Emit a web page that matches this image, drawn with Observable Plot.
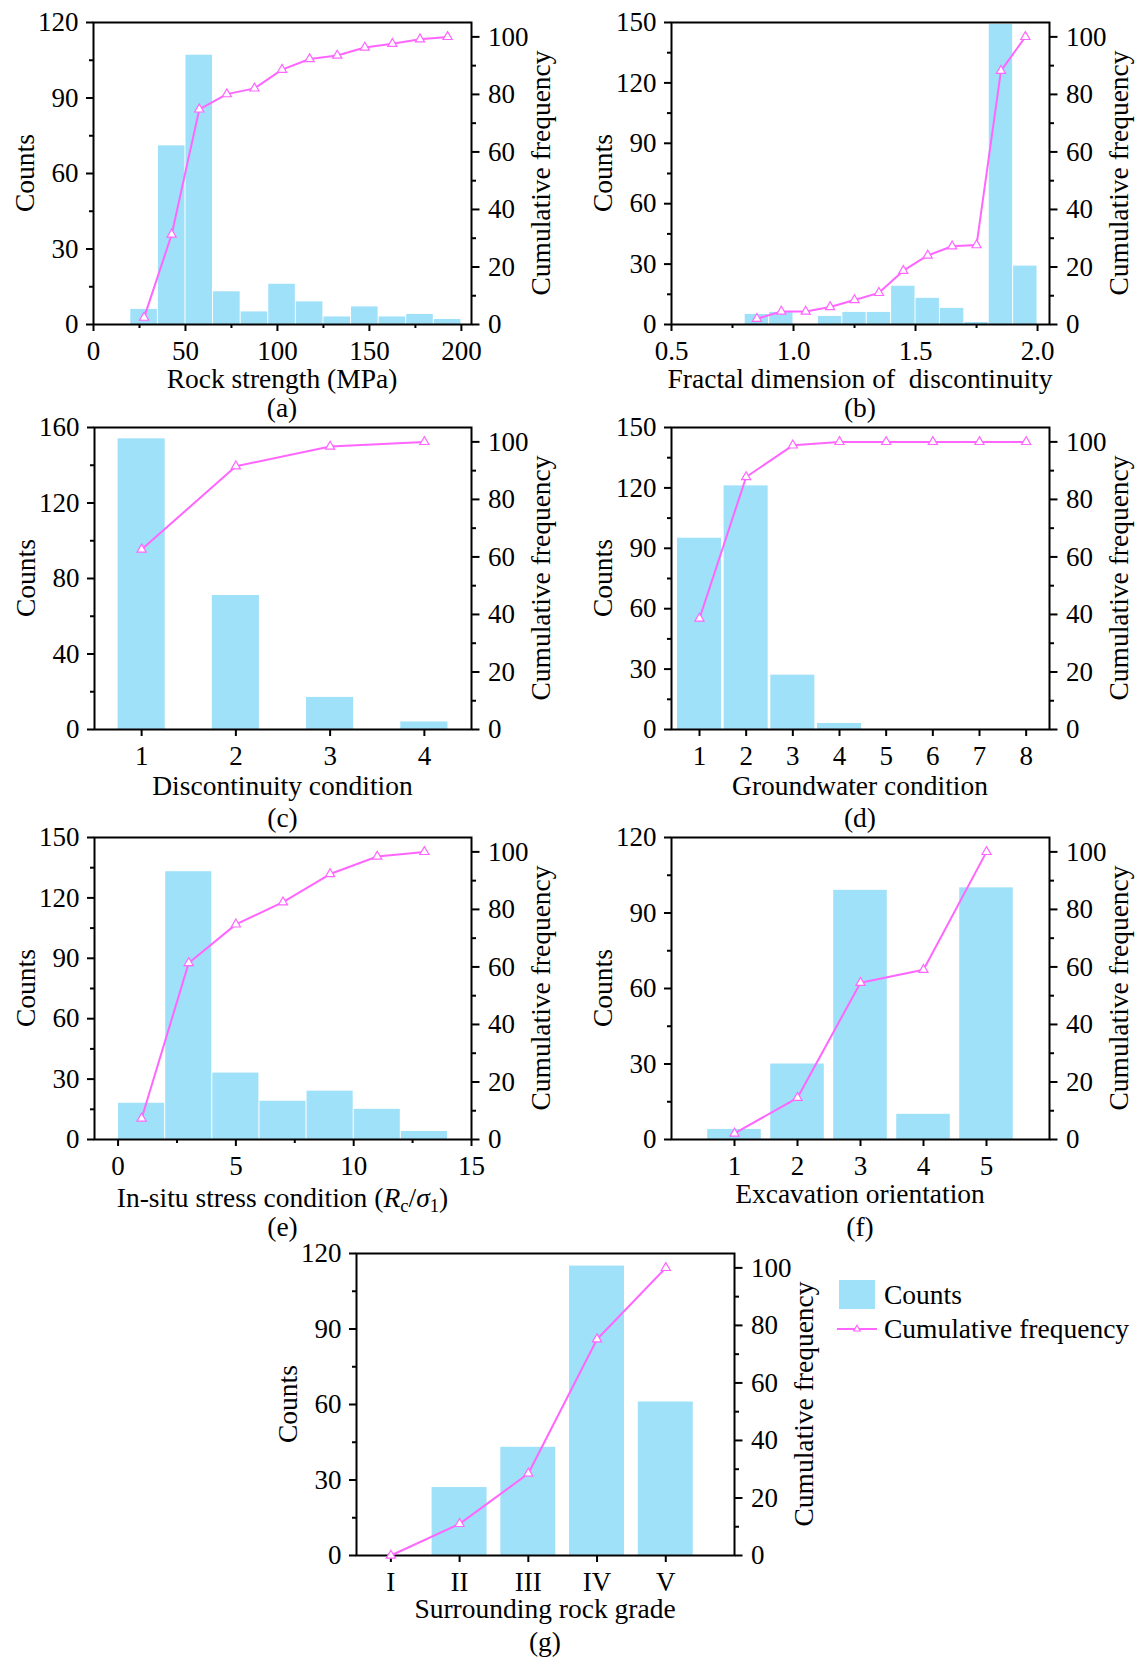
<!DOCTYPE html>
<html><head><meta charset="utf-8">
<script src="https://cdn.jsdelivr.net/npm/d3@7"></script>
<script src="https://cdn.jsdelivr.net/npm/@observablehq/plot@0.6"></script>
<style>
body{margin:0;background:#fff;}
#root{position:relative;width:1140px;height:1657px;overflow:hidden;font-family:"Liberation Serif","Times New Roman",serif;color:#000;background:#fff;}
.lbl{position:absolute;white-space:pre;line-height:0.75;transform:translate(-50%,-50%);}
.rot{transform:translate(-50%,-50%) rotate(-90deg);}
.lbl sub{font-size:0.68em;vertical-align:-0.3em;line-height:0;}
</style></head><body><div id="root"></div>
<script>
// ---------- data ----------
const rockStrengthBins = [27.5, 42.5, 57.5, 72.5, 87.5, 102.5, 117.5, 132.5, 147.5, 162.5, 177.5, 192.5];
const rockStrengthCounts = [6, 71, 107, 13, 5, 16, 9, 3, 7, 3, 4, 2];
const rockStrengthCum = [2.4, 31.3, 74.8, 80.1, 82.1, 88.6, 92.3, 93.5, 96.3, 97.6, 99.2, 100];

const fractalBins = [0.85, 0.95, 1.05, 1.15, 1.25, 1.35, 1.45, 1.55, 1.65, 1.75, 1.85, 1.95];
const fractalCounts = [5, 6, 0, 4, 6, 6, 19, 13, 8, 1, 149, 29];
const fractalCum = [2.0, 4.5, 4.5, 6.1, 8.5, 11.0, 18.7, 24.0, 27.2, 27.6, 88.2, 100];

const discontinuityLevels = [1, 2, 3, 4];
const discontinuityCounts = [154, 71, 17, 4];
const discontinuityCum = [62.6, 91.5, 98.4, 100];

const groundwaterLevels = [1, 2, 3, 4, 5, 6, 7, 8];
const groundwaterCounts = [95, 121, 27, 3, 0, 0, 0, 0];
const groundwaterCum = [38.6, 87.8, 98.8, 100, 100, 100, 100, 100];

const stressBins = [1, 3, 5, 7, 9, 11, 13];
const stressCounts = [18, 133, 33, 19, 24, 15, 4];
const stressCum = [7.3, 61.4, 74.8, 82.5, 92.3, 98.4, 100];

const orientationLevels = [1, 2, 3, 4, 5];
const orientationCounts = [4, 30, 99, 10, 100];
const orientationCum = [2.1, 14.5, 54.5, 59.0, 100];

const gradeLevels = [1, 2, 3, 4, 5];
const gradeLabels = ["I", "II", "III", "IV", "V"];
const gradeCounts = [0, 27, 43, 115, 61];
const gradeCum = [0, 11.0, 28.5, 75.2, 100];

const cumTicks = [0, 20, 40, 60, 80, 100];
const cumMinor = [10, 30, 50, 70, 90];

// ---------- styling ----------
const FONT = "Liberation Serif, Times New Roman, serif";
const BAR = "#a0e1fa";
const LINE = "#ff66ff";
const TICK_FS = 27;
const TEXT_FS = 27.5;
const root = document.getElementById("root");

function label(html, x, y, size, rotate) {
  const d = document.createElement("div");
  d.className = "lbl" + (rotate ? " rot" : "");
  d.style.left = x + "px"; d.style.top = y + "px"; d.style.fontSize = size + "px";
  d.innerHTML = html;
  root.appendChild(d);
}

function panel(c) {
  const mL = 90, mR = 75, mT = 25, mB = 55;
  const width = c.fx2 - c.fx1 + mL + mR;
  const height = c.fy2 - c.fy1 + mT + mB;
  const bars = c.centers.map((v, i) => ({x1: v - c.barWidth / 2, x2: v + c.barWidth / 2, count: c.counts[i]}));
  const pts = c.centers.map((v, i) => ({x: v, cum: c.cum[i]}));
  const style = {fontFamily: FONT, fontSize: TICK_FS + "px", color: "#000", background: "transparent", overflow: "visible"};
  const common = {width, height, marginLeft: mL, marginRight: mR, marginTop: mT, marginBottom: mB, style};
  const A = Plot.plot({
    ...common,
    x: {domain: c.xDomain},
    y: {domain: [0, c.yMax]},
    marks: [
      Plot.rectY(bars, {x1: "x1", x2: "x2", y: "count", fill: BAR, insetLeft: c.inset, insetRight: c.inset}),
      Plot.axisY({ticks: c.yTicks, tickSize: 7, tickPadding: 8, strokeWidth: 2, label: null, fontSize: TICK_FS}),
      Plot.axisY({ticks: c.yMinor, tickSize: 4, tickFormat: () => "", strokeWidth: 2, label: null}),
      Plot.axisX({ticks: c.xTicks, tickSize: 7, tickPadding: 9.5, strokeWidth: 2, label: null, fontSize: TICK_FS, tickFormat: c.xFormat}),
      c.xMinor ? Plot.axisX({ticks: c.xMinor, tickSize: 4, tickFormat: () => "", strokeWidth: 2, label: null}) : null,
      Plot.frame({stroke: "#000", strokeWidth: 2})
    ]
  });
  const B = Plot.plot({
    ...common,
    x: {domain: c.xDomain, axis: null},
    y: {domain: [0, 105]},
    marks: [
      Plot.line(pts, {x: "x", y: "cum", stroke: LINE, strokeWidth: 2}),
      Plot.dot(pts, {x: "x", y: "cum", symbol: "triangle", r: 3.4, stroke: LINE, fill: "#fff", strokeWidth: 1.2}),
      Plot.axisY({anchor: "right", ticks: cumTicks, tickSize: 7.5, tickPadding: 9, strokeWidth: 2, label: null, fontSize: TICK_FS}),
      Plot.axisY({anchor: "right", ticks: cumMinor, tickSize: 4, tickFormat: () => "", strokeWidth: 2, label: null})
    ]
  });
  for (const s of [A, B]) {
    s.style.position = "absolute";
    s.style.left = (c.fx1 - mL) + "px";
    s.style.top = (c.fy1 - mT) + "px";
    s.style.maxWidth = "none";
    root.appendChild(s);
  }
  const midX = (c.fx1 + c.fx2) / 2, midY = (c.fy1 + c.fy2) / 2;
  label("Counts", c.fx1 - 68, midY, TEXT_FS, true);
  label("Cumulative frequency", c.fx2 + 70, midY, TEXT_FS, true);
  label(c.title, midX, c.titleY, TEXT_FS, false);
  label(c.tag, midX, c.tagY, TEXT_FS, false);
}

const intFmt = d3.format("d");

panel({fx1: 93, fx2: 471, fy1: 22, fy2: 324, xDomain: [0, 205.5], yMax: 120,
  yTicks: [0, 30, 60, 90, 120], yMinor: [15, 45, 75, 105],
  xTicks: [0, 50, 100, 150, 200], xMinor: [25, 75, 125, 175], xFormat: intFmt,
  centers: rockStrengthBins, counts: rockStrengthCounts, cum: rockStrengthCum, barWidth: 15, inset: 0.5,
  title: "Rock strength (MPa)", titleY: 379, tag: "(a)", tagY: 408});

panel({fx1: 671, fx2: 1049, fy1: 22, fy2: 324, xDomain: [0.5, 2.049], yMax: 150,
  yTicks: [0, 30, 60, 90, 120, 150], yMinor: [15, 45, 75, 105, 135],
  xTicks: [0.5, 1.0, 1.5, 2.0], xMinor: [0.75, 1.25, 1.75], xFormat: d3.format(".1f"),
  centers: fractalBins, counts: fractalCounts, cum: fractalCum, barWidth: 0.1, inset: 0.5,
  title: "Fractal dimension of  discontinuity", titleY: 379, tag: "(b)", tagY: 408});

panel({fx1: 94, fx2: 471, fy1: 427, fy2: 729, xDomain: [0.5, 4.5], yMax: 160,
  yTicks: [0, 40, 80, 120, 160], yMinor: [20, 60, 100, 140],
  xTicks: discontinuityLevels, xMinor: null, xFormat: intFmt,
  centers: discontinuityLevels, counts: discontinuityCounts, cum: discontinuityCum, barWidth: 0.5, inset: 0,
  title: "Discontinuity condition", titleY: 786, tag: "(c)", tagY: 818});

panel({fx1: 671, fx2: 1049, fy1: 427, fy2: 729, xDomain: [0.4, 8.5], yMax: 150,
  yTicks: [0, 30, 60, 90, 120, 150], yMinor: [15, 45, 75, 105, 135],
  xTicks: groundwaterLevels, xMinor: null, xFormat: intFmt,
  centers: groundwaterLevels, counts: groundwaterCounts, cum: groundwaterCum, barWidth: 1, inset: 1.3,
  title: "Groundwater condition", titleY: 786, tag: "(d)", tagY: 818});

panel({fx1: 94, fx2: 471, fy1: 837, fy2: 1139, xDomain: [-1, 15], yMax: 150,
  yTicks: [0, 30, 60, 90, 120, 150], yMinor: [15, 45, 75, 105, 135],
  xTicks: [0, 5, 10, 15], xMinor: [2.5, 7.5, 12.5], xFormat: intFmt,
  centers: stressBins, counts: stressCounts, cum: stressCum, barWidth: 2, inset: 0.5,
  title: "In-situ stress condition (<i>R</i><sub>c</sub>/<i>σ</i><sub>1</sub>)", titleY: 1198, tag: "(e)", tagY: 1227});

panel({fx1: 671, fx2: 1049, fy1: 837, fy2: 1139, xDomain: [0, 6], yMax: 120,
  yTicks: [0, 30, 60, 90, 120], yMinor: [15, 45, 75, 105],
  xTicks: orientationLevels, xMinor: null, xFormat: intFmt,
  centers: orientationLevels, counts: orientationCounts, cum: orientationCum, barWidth: 0.85, inset: 0,
  title: "Excavation orientation", titleY: 1194, tag: "(f)", tagY: 1227});

panel({fx1: 356, fx2: 734, fy1: 1253, fy2: 1555, xDomain: [0.5, 6], yMax: 120,
  yTicks: [0, 30, 60, 90, 120], yMinor: [15, 45, 75, 105],
  xTicks: gradeLevels, xMinor: null, xFormat: d => gradeLabels[d - 1],
  centers: gradeLevels, counts: gradeCounts, cum: gradeCum, barWidth: 0.8, inset: 0,
  title: "Surrounding rock grade", titleY: 1609, tag: "(g)", tagY: 1642});

// ---------- legend ----------
const sw = document.createElement("div");
Object.assign(sw.style, {position: "absolute", left: "839px", top: "1280px", width: "36px", height: "29px", background: BAR});
root.appendChild(sw);
const lg = document.createElementNS("http://www.w3.org/2000/svg", "svg");
lg.setAttribute("width", "44"); lg.setAttribute("height", "14");
Object.assign(lg.style, {position: "absolute", left: "835px", top: "1322px"});
lg.innerHTML = `<line x1="2" y1="7" x2="42" y2="7" stroke="${LINE}" stroke-width="2"/>` +
  `<path d="M22,3.2 L25.3,9 L18.7,9 Z" fill="#fff" stroke="${LINE}" stroke-width="1.2"/>`;
root.appendChild(lg);
function legText(t, baseline) {
  const d = document.createElement("div");
  Object.assign(d.style, {position: "absolute", left: "884px", top: (baseline - 23) + "px", fontSize: TEXT_FS + "px", lineHeight: "1", whiteSpace: "pre"});
  d.textContent = t;
  root.appendChild(d);
}
legText("Counts", 1304);
legText("Cumulative frequency", 1338);
</script></body></html>
